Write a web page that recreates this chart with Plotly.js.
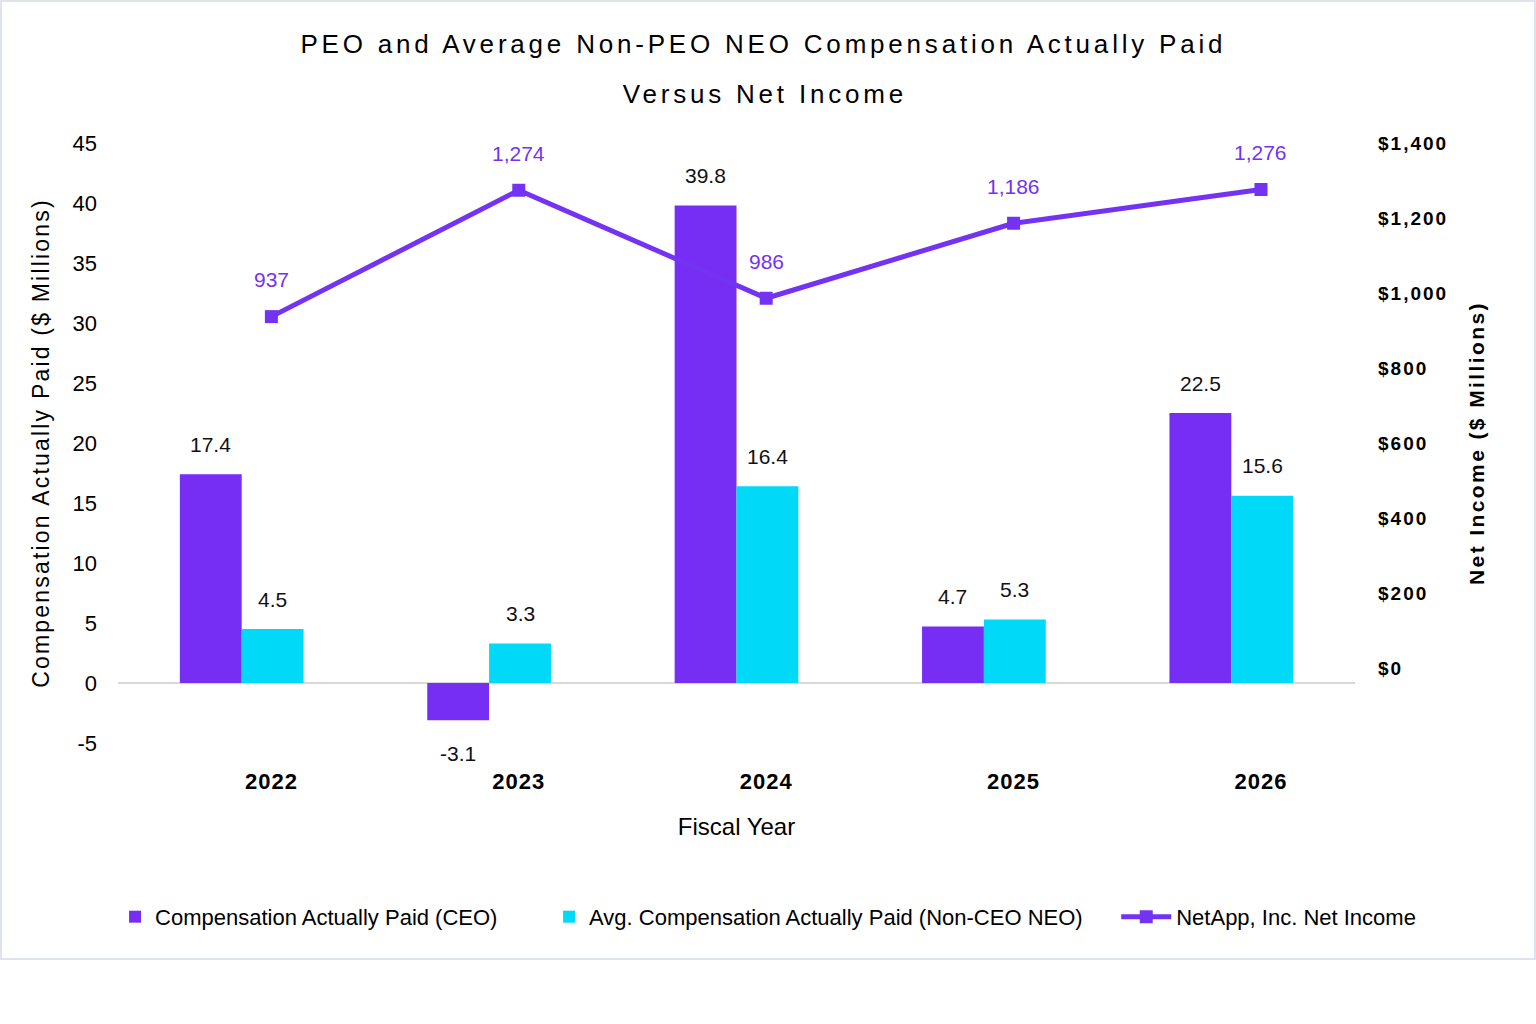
<!DOCTYPE html>
<html><head><meta charset="utf-8">
<script src="https://cdn.plot.ly/plotly-3.0.1.min.js"></script>
<style>
html,body{margin:0;padding:0;background:#fff;}
#chart{position:absolute;left:0;top:0;width:1532px;height:956px;border:2px solid #dde3e8;}
.gtitle{letter-spacing:3.8px;}
g.annotation[data-index="0"] text{letter-spacing:3.8px;}
.x2tick text{letter-spacing:1px;}
.y2tick text{letter-spacing:2px;}
text.ytitle{letter-spacing:2.2px;}
text.y2title{letter-spacing:2.4px;}
</style></head><body><div id="chart"></div>
<script>
const years = ['2022','2023','2024','2025','2026'];
const ceoCAP = [17.4, -3.1, 39.8, 4.7, 22.5];
const neoCAP = [4.5, 3.3, 16.4, 5.3, 15.6];
const netIncome = [937, 1274, 986, 1186, 1276];
const leftTicks = [-5, 0, 5, 10, 15, 20, 25, 30, 35, 40, 45];
const rightTicks = [0, 200, 400, 600, 800, 1000, 1200, 1400];
const seriesNames = ['Compensation Actually Paid (CEO)', 'Avg. Compensation Actually Paid (Non-CEO NEO)', 'NetApp, Inc. Net Income'];

const DOLLAR = String.fromCharCode(36);
const PURPLE = '#762EF5', CYAN = '#00D9F7', LINEP = '#7433F2';
const FONT = 'Liberation Sans, Arial, sans-serif';

const traces = [
  {type:'bar', name:seriesNames[0], x:years, y:ceoCAP, xaxis:'x', yaxis:'y', marker:{color:PURPLE}, hoverinfo:'skip', legend:'legend'},
  {type:'bar', name:seriesNames[1], x:years, y:neoCAP, xaxis:'x', yaxis:'y', marker:{color:CYAN}, hoverinfo:'skip', legend:'legend2'},
  {type:'scatter', mode:'lines+markers', name:seriesNames[2], x:years, y:netIncome, xaxis:'x2', yaxis:'y2',
   line:{color:LINEP, width:5}, marker:{symbol:'square', size:13, color:LINEP}, hoverinfo:'skip', legend:'legend3'}
];

const annotations = [
  {text:'Versus Net Income', xref:'paper', yref:'paper', x:0.523, y:1.0817, xanchor:'center', yanchor:'middle',
   showarrow:false, font:{family:FONT, size:26, color:'#000'}}
];
years.forEach((yr, i) => {
  annotations.push({text:ceoCAP[i].toFixed(1), xref:'x', yref:'y', x:i, y:ceoCAP[i], xshift:-31,
    yshift: ceoCAP[i] >= 0 ? 30 : -33, xanchor:'center', yanchor:'middle', showarrow:false,
    font:{family:FONT, size:21, color:'#111'}});
  annotations.push({text:neoCAP[i].toFixed(1), xref:'x', yref:'y', x:i, y:neoCAP[i], xshift:31,
    yshift:30, xanchor:'center', yanchor:'middle', showarrow:false,
    font:{family:FONT, size:21, color:'#111'}});
  annotations.push({text:netIncome[i].toLocaleString('en-US'), xref:'x2', yref:'y2', x:i, y:netIncome[i],
    yshift:37, xanchor:'center', yanchor:'middle', showarrow:false,
    font:{family:FONT, size:21, color:LINEP}});
});

function legendAt(x, iw) {
  return {orientation:'h', xref:'container', yref:'container', x:x, xanchor:'left', y:0.043, yanchor:'middle',
          font:{family:FONT, size:22, color:'#000'}, itemwidth:iw, bgcolor:'rgba(0,0,0,0)'};
}

const layout = {
  width:1532, height:956,
  margin:{l:116, r:179, t:141, b:215, pad:0},
  paper_bgcolor:'#fff', plot_bgcolor:'#fff',
  font:{family:FONT, color:'#000'},
  title:{text:'PEO and Average Non-PEO NEO Compensation Actually Paid', x:0.497, xref:'container', xanchor:'center',
         y:0.956, yref:'container', yanchor:'middle', font:{family:FONT, size:26, color:'#000'}},
  barmode:'group', bargap:0.5, bargroupgap:0,
  xaxis:{type:'category', range:[-0.5, 4.5], showticklabels:false, showgrid:false, zeroline:false, showline:false, ticks:''},
  xaxis2:{type:'category', overlaying:'x', anchor:'y', side:'bottom', range:[-0.62, 4.38],
          showgrid:false, zeroline:false, showline:false, ticks:'', ticklabelstandoff:23,
          tickfont:{family:FONT, size:22, weight:'bold', color:'#000'},
          title:{text:'Fiscal Year', font:{family:FONT, size:24, color:'#000'}, standoff:25}},
  yaxis:{range:[-5, 45], tickvals:leftTicks, ticktext:leftTicks.map(String), showgrid:false,
         zeroline:true, zerolinecolor:'#d9d9d9', zerolinewidth:2,
         showline:false, ticks:'', ticklabelstandoff:20, tickfont:{family:FONT, size:22, color:'#000'},
         title:{text:'Compensation Actually Paid ($ Millions)', font:{family:FONT, size:23, color:'#000'}, standoff:16}},
  yaxis2:{overlaying:'y', side:'right', anchor:'x', range:[-200, 1400], tickvals:rightTicks,
          ticktext:rightTicks.map(v => DOLLAR + v.toLocaleString('en-US')),
          showgrid:false, zeroline:false, showline:false, ticks:'', ticklabelstandoff:22,
          tickfont:{family:FONT, size:19, weight:'bold', color:'#000'},
          title:{text:'Net Income ($ Millions)', font:{family:FONT, size:21, weight:'bold', color:'#000'}, standoff:22}},
  legend:legendAt(0.0738, 30),
  legend2:legendAt(0.3571, 30),
  legend3:legendAt(0.7273, 50),
  annotations:annotations,
  showlegend:true
};

Plotly.newPlot('chart', traces, layout, {displayModeBar:false, staticPlot:true});
</script></body></html>
